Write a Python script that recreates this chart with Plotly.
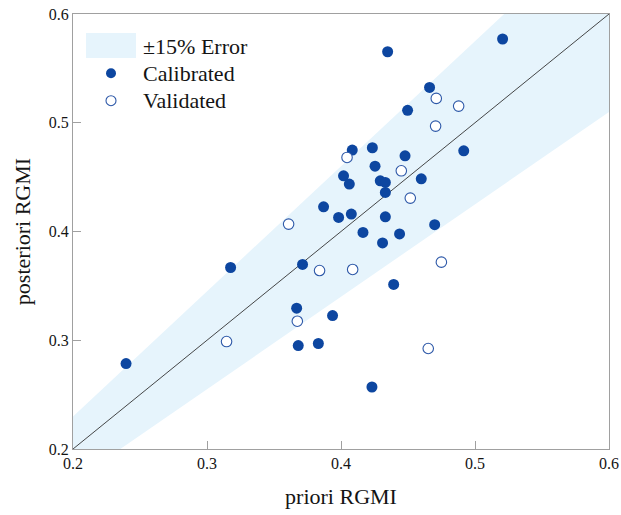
import plotly.graph_objects as go

# ---- data ----
cal_x = [0.5206, 0.4348, 0.4661, 0.4497, 0.4084, 0.4234, 0.4478, 0.4916, 0.4254, 0.4019,
         0.4062, 0.4293, 0.4331, 0.4599, 0.4331, 0.3870, 0.3982, 0.4077, 0.4331, 0.4699,
         0.4164, 0.4437, 0.4310, 0.4393, 0.3937, 0.4231, 0.3176, 0.3713, 0.3669, 0.3681,
         0.3831, 0.2396]
cal_y = [0.5770, 0.5653, 0.5325, 0.5114, 0.4749, 0.4770, 0.4696, 0.4742, 0.4601, 0.4512,
         0.4436, 0.4466, 0.4451, 0.4484, 0.4359, 0.4227, 0.4129, 0.4160, 0.4135, 0.4063,
         0.3991, 0.3978, 0.3895, 0.3513, 0.3227, 0.2570, 0.3669, 0.3697, 0.3295, 0.2951,
         0.2970, 0.2786]
val_x = [0.4711, 0.4878, 0.4706, 0.4045, 0.4450, 0.4517, 0.3609, 0.3840, 0.4087, 0.4749,
         0.3674, 0.3146, 0.4651]
val_y = [0.5224, 0.5153, 0.4969, 0.4681, 0.4558, 0.4307, 0.4068, 0.3641, 0.3651, 0.3718,
         0.3175, 0.2988, 0.2924]
line_x = [0.2, 0.6]
error_pct = 0.15
tick_vals = [0.2, 0.3, 0.4, 0.5, 0.6]
tick_text = ["0.2", "0.3", "0.4", "0.5", "0.6"]
legend_labels = ["\u00b115% Error", "Calibrated", "Validated"]

# ---- styles ----
FONT = "Liberation Serif"
BAND = "rgb(230,244,252)"
DARK = "rgb(13,70,160)"
OPEN_EDGE = "rgb(45,88,168)"
AXIS = "rgb(160,160,160)"
TXT = "rgb(20,20,20)"

upper = [v * (1 + error_pct) for v in line_x]
lower = [v * (1 - error_pct) for v in line_x]

fig = go.Figure()
fig.add_trace(go.Scatter(
    x=line_x + line_x[::-1], y=upper + lower[::-1], fill="toself",
    fillcolor=BAND, line=dict(width=0), mode="lines", hoverinfo="skip",
    name=legend_labels[0], showlegend=False))
fig.add_trace(go.Scatter(
    x=line_x, y=line_x, mode="lines", line=dict(color="rgb(50,50,50)", width=0.9),
    showlegend=False, hoverinfo="skip"))
fig.add_trace(go.Scatter(
    x=cal_x, y=cal_y, mode="markers", name=legend_labels[1],
    marker=dict(size=11, color=DARK, line=dict(width=0)), showlegend=False))
fig.add_trace(go.Scatter(
    x=val_x, y=val_y, mode="markers", name=legend_labels[2],
    marker=dict(size=10.5, color="white", line=dict(width=1.1, color=OPEN_EDGE)),
    showlegend=False))

# figure fills the whole window (body margin removed in post_script)
W, H = 621, 515
L, T = 73, 14
PW, PH = 536, 435
R, B = W - L - PW, H - T - PH

def px(x):
    return (x - L) / PW

def py(y):
    return 1 - (y - T) / PH

shapes = [
    dict(type="rect", xref="paper", yref="paper", x0=px(86), x1=px(136), y0=py(58), y1=py(33),
         fillcolor=BAND, line=dict(width=0), layer="above"),
    dict(type="circle", xref="paper", yref="paper", x0=px(106), x1=px(116),
         y0=py(78.3), y1=py(68.3), fillcolor=DARK, line=dict(width=0), layer="above"),
    dict(type="circle", xref="paper", yref="paper", x0=px(106), x1=px(116),
         y0=py(105.7), y1=py(95.7), fillcolor="white",
         line=dict(width=1.1, color=OPEN_EDGE), layer="above"),
]
annotations = []
for lbl, yy in zip(legend_labels, [46, 73.5, 101]):
    annotations.append(dict(x=px(141), y=py(yy), xref="paper", yref="paper", text=lbl,
                            showarrow=False, xanchor="left", yanchor="middle",
                            font=dict(family=FONT, size=22, color=TXT)))

axis_common = dict(
    range=[0.2, 0.6], tickvals=tick_vals, ticktext=tick_text, ticks="inside", ticklen=8,
    tickcolor=AXIS, tickwidth=1, showline=True, linecolor=AXIS, linewidth=1, mirror=True,
    showgrid=False, zeroline=False, ticklabeloverflow="allow",
    tickfont=dict(family=FONT, size=16, color=TXT),
)

fig.update_layout(
    width=W, height=H, margin=dict(l=L, r=R, t=T, b=B, autoexpand=False),
    font=dict(family=FONT, color=TXT),
    plot_bgcolor="white", paper_bgcolor="white", showlegend=False,
    shapes=shapes, annotations=annotations,
    xaxis=dict(**axis_common, title=dict(text="priori RGMI", standoff=17,
               font=dict(family=FONT, size=22, color=TXT))),
    yaxis=dict(**axis_common, title=dict(text="posteriori RGMI", standoff=12,
               font=dict(family=FONT, size=22, color=TXT))),
)

fig.write_html(
    "out.html",
    config={"displayModeBar": False},
    post_script="document.body.style.margin='0';document.documentElement.style.overflow='hidden';",
)
